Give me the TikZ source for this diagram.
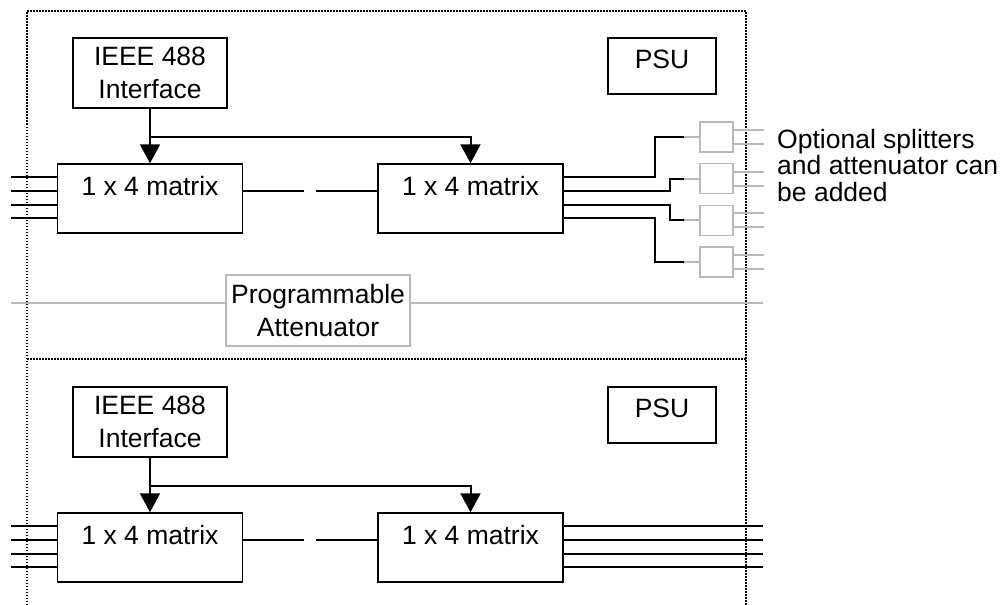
\documentclass[tikz,border=0pt]{standalone}
\usepackage{fontspec}
\setmainfont{Liberation Sans}
\usetikzlibrary{arrows.meta}

\tikzset{
  blockbox/.style={draw, line width=1.5pt, inner sep=0pt, align=center},
  matrixbox/.style={blockbox, minimum width=185pt, text height=31pt, text depth=38pt},
  psubox/.style={blockbox, minimum width=108pt, text height=30pt, text depth=26pt},
  ifbox/.style={blockbox, minimum width=154pt, minimum height=70pt},
  splitbox/.style={draw=gray!55, line width=1.5pt, minimum width=33pt, minimum height=30pt, inner sep=0pt},
  wire/.style={line width=2pt},
  greywire/.style={draw=gray!55, line width=2pt},
  ctrl/.style={wire, -{Triangle[width=20pt,length=19pt]}},
  frame/.style={line width=2pt, dash pattern=on 1.5pt off 1.5pt},
}

\begin{document}
\begin{tikzpicture}[x=1pt, y=-1pt, font=\fontsize{26.5pt}{33pt}\selectfont]
    \useasboundingbox (0,0) rectangle (1004,605);

    % Dotted rack outline
    \draw[frame] (27,605) -- (27,11) -- (746,11) -- (746,605);
    \draw[frame] (27,359) -- (746,359);

    % Upper unit
    \node[ifbox] (ieee1) at (150,73) {IEEE 488\\Interface};
    \node[psubox] (psu1) at (662,66) {PSU};
    \node[matrixbox] (m1) at (150,198.5) {1 x 4 matrix};
    \node[matrixbox] (m2) at (470.5,198.5) {1 x 4 matrix};

    \draw[ctrl] (ieee1) -- (m1);
    \path (ieee1.south) ++(0,28) coordinate (tap1);
    \draw[ctrl] (tap1) -| (m2.north);

    \foreach \i in {1,...,4}
      \draw[wire] (m1.north west) ++(0,13.8*\i) -- ++(-46,0);
    \draw[wire] (m1.north east) ++(0,27.6) -- ++(61,0);
    \draw[wire] (m2.north west) ++(0,27.6) -- ++(-61,0);

    % Optional splitters
    \foreach \i in {1,...,4}
      \node[splitbox] (sp\i) at (716.5,{137+41.67*(\i-1)}) {};
    \foreach \i/\dx in {1/91,2/106,3/106,4/91}{
      \draw[wire] (m2.north east) ++(0,13.8*\i) -- ++(\dx,0) |- ([xshift=-15pt]sp\i.west);
      \draw[greywire] ([xshift=-15pt]sp\i.west) -- (sp\i.west);
      \draw[greywire] ([yshift=7pt]sp\i.east) -- ++(30,0);
      \draw[greywire] ([yshift=-7pt]sp\i.east) -- ++(30,0);
    }
    \node[anchor=north west, align=left, inner sep=0pt, font=\fontsize{26.5pt}{26.5pt}\selectfont]
      (note) at (777,129) {Optional splitters\\and attenuator can\\be added};

    % Attenuator between the units
    \node[blockbox, draw=gray!55, minimum width=184pt, minimum height=71pt] (att) at (318,310.5) {Programmable\\Attenuator};
    \draw[greywire] ([yshift=7.5pt]att.west) -- ++(-214,0);
    \draw[greywire] ([yshift=7.5pt]att.east) -- ++(352,0);

    % Lower unit
    \node[ifbox] (ieee2) at (150,422) {IEEE 488\\Interface};
    \node[psubox] (psu2) at (662,415) {PSU};
    \node[matrixbox] (m3) at (150,547.5) {1 x 4 matrix};
    \node[matrixbox] (m4) at (470.5,547.5) {1 x 4 matrix};

    \draw[ctrl] (ieee2) -- (m3);
    \path (ieee2.south) ++(0,28) coordinate (tap2);
    \draw[ctrl] (tap2) -| (m4.north);

    \foreach \i in {1,...,4}{
      \draw[wire] (m3.north west) ++(0,13.8*\i) -- ++(-46,0);
      \draw[wire] (m4.north east) ++(0,13.8*\i) -- ++(199,0);
    }
    \draw[wire] (m3.north east) ++(0,27.6) -- ++(61,0);
    \draw[wire] (m4.north west) ++(0,27.6) -- ++(-61,0);
\end{tikzpicture}
\end{document}
